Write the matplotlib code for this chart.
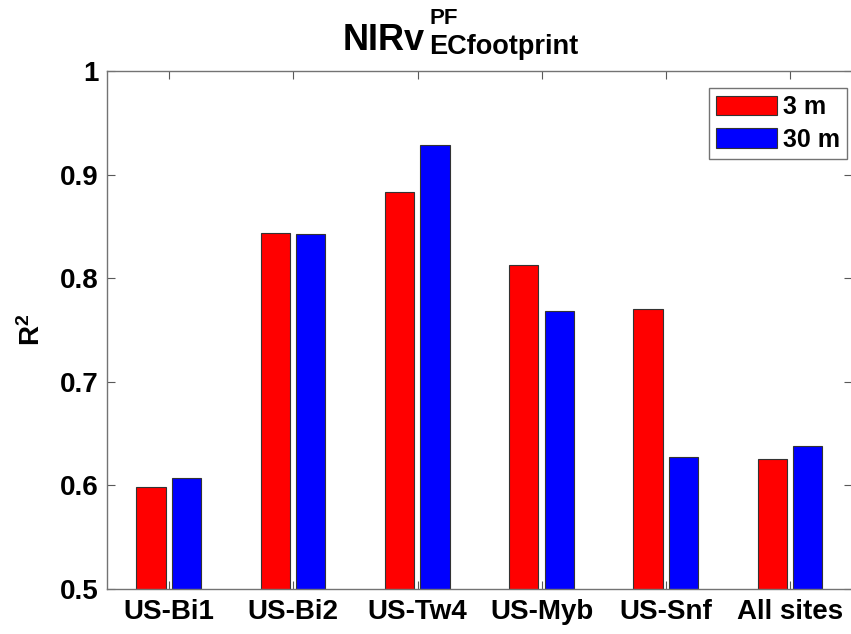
import matplotlib
matplotlib.use("Agg")
import matplotlib.pyplot as plt
import numpy as np

# R^2 per site for the two footprint resolutions
sites = ["US-Bi1", "US-Bi2", "US-Tw4", "US-Myb", "US-Snf", "All sites"]
r2_3m = [0.598, 0.844, 0.883, 0.813, 0.770, 0.625]
r2_30m = [0.607, 0.843, 0.929, 0.768, 0.627, 0.638]
series_names = ["3 m", "30 m"]
yticks = [0.5, 0.6, 0.7, 0.8, 0.9, 1.0]
ytick_labels = ["0.5", "0.6", "0.7", "0.8", "0.9", "1"]

plt.rcParams["font.family"] = ["Liberation Sans", "DejaVu Sans"]
plt.rcParams["font.weight"] = "bold"
plt.rcParams["mathtext.fontset"] = "custom"
plt.rcParams["mathtext.rm"] = "Liberation Sans"
plt.rcParams["mathtext.bf"] = "Liberation Sans:bold"

W, H = 851, 634
fig = plt.figure(figsize=(W / 100, H / 100), dpi=100)
ax = fig.add_axes([0.1257, 0.071, 0.876, 0.817])

x = np.arange(1, len(sites) + 1)
w = 0.235
ax.bar(x - 0.145, r2_3m, w, color="#ff0000", edgecolor="0.2", linewidth=0.8,
       label=series_names[0], zorder=2)
ax.bar(x + 0.14, r2_30m, w, color="#0000ff", edgecolor="0.2", linewidth=0.8,
       label=series_names[1], zorder=2)

ax.set_xlim(0.5, 6.5)
ax.set_ylim(0.5, 1.0)
ax.set_xticks(x)
ax.set_xticklabels(sites)
ax.set_yticks(yticks)
ax.set_yticklabels(ytick_labels)
ax.tick_params(direction="in", length=6, width=0.8, color="0.35",
               labelsize=20, top=True, right=True, pad=6)
ax.tick_params(axis="x", pad=7)
for s in ax.spines.values():
    s.set_color("0.45")
    s.set_linewidth(1)

ax.set_ylabel(r"$\mathbf{R^2}$", fontsize=20, labelpad=10)

# title: NIRv with stacked PF / ECfootprint scripts
fig.text(425 / W, 1 - 50 / H, "NIRv", fontsize=26, fontweight="bold",
         ha="right", va="baseline")
fig.text(430 / W, 1 - 23.5 / H, "PF", fontsize=16, fontweight="bold",
         ha="left", va="baseline")
fig.text(429 / W, 1 - 53.5 / H, "ECfootprint", fontsize=19.5, fontweight="bold",
         ha="left", va="baseline")

leg = ax.legend(loc="upper right", bbox_to_anchor=(0.9933, 0.967),
                borderaxespad=0, fancybox=False, framealpha=1,
                edgecolor="0.45", fontsize=18, handlelength=2.44,
                handleheight=0.84, handletextpad=0.25, labelspacing=0.35,
                borderpad=0.28)
leg.get_frame().set_linewidth(1)
for t in leg.get_texts():
    t.set_fontweight("bold")

fig.savefig("out.png", dpi=100)
